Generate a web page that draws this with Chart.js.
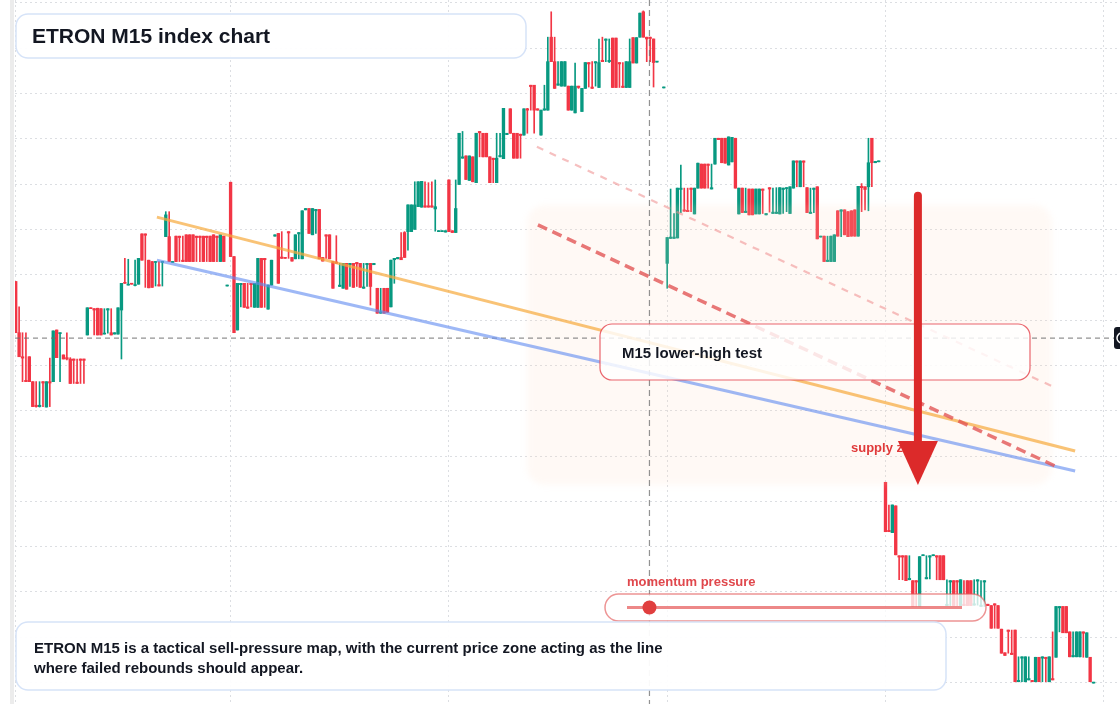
<!DOCTYPE html>
<html>
<head>
<meta charset="utf-8">
<title>ETRON M15 index chart</title>
<script src="https://cdn.jsdelivr.net/npm/chart.js@4.4.1/dist/chart.umd.min.js"></script>
<style>
  html, body { margin: 0; padding: 0; background: #fff; }
  canvas { display: block; }
</style>
</head>
<body>
<canvas id="chart" width="1120" height="704"></canvas>
<script>
// M15 candles, one per bar index (null = no print)
const opens = [
  138.5, 127.2, 121.9, 116.7, 121.9, 116.4, 111.2, 110.9, 116.4, 110.8,
  116.4, 116.4, 127.8, 127.0, 122.3, 121.7, 121.4, 121.4, 116.3, 121.4,
  121.4, 126.7, 132.7, 132.5, 132.6, 132.5, 126.9, 132.2, 127.2, 126.9,
  126.9, 132.2, 138.3, 137.7, 138.1, 137.6, 137.9, 149.0, 149.0, 143.2,
  142.9, 142.7, 137.8, 142.7, 148.4, 148.4, 142.7, 148.5, 148.5, 143.2,
  148.8, 148.8, 148.8, 148.5, 148.5, 148.5, 148.5, 148.5, 148.8, 148.5,
  142.9, 148.5, 137.5, 160.4, 144.0, 127.8, 137.8, 138.1, 132.9, 138.1,
  132.8, 132.8, 143.6, 143.6, 132.4, 137.7, 148.5, 149.1, 143.9, 143.8,
  149.5, 143.8, 143.5, 149.0, 143.5, 154.3, 154.6, 148.8, 154.1, 154.4,
  143.8, 148.8, 148.8, 142.9, 142.8, 137.4, 137.0, 142.5, 142.2, 142.5,
  142.7, 142.5, 137.0, 142.2, 142.5, 142.2, 137.0, 131.5, 137.0, 137.0,
  132.9, 143.3, 143.5, 143.8, 149.3, 149.5, 149.5, 150.0, 155.0, 154.9,
  155.2, 155.2, 155.2, 154.5, 149.5, 149.5, 149.4, 160.9, 149.7, 149.3,
  159.9, 165.7, 166.2, 160.8, 166.0, 160.3, 171.6, 171.2, 171.2, 166.0,
  165.7, 160.3, 166.0, 165.6, 170.9, 176.6, 171.2, 171.2, 171.0, 170.8,
  176.6, 181.8, 181.8, 176.6, 170.8, 176.3, 176.3, 192.4, 187.0, 181.8,
  181.6, 181.6, 181.6, 176.3, 175.7, 181.6, 176.0, 181.1, 186.8, 181.4,
  186.7, 181.3, 187.3, 191.7, 187.0, 192.2, 192.2, 186.8, 181.6, 181.3,
  181.3, 192.3, 186.7, 192.4, 198.0, 192.4, 192.4, 192.0, 186.9, null,
  181.2, 142.5, 148.0, 148.0, 148.1, 158.8, 154.3, 154.2, 159.1, 153.4,
  159.1, 164.4, 164.4, 164.4, 158.9, 164.4, 170.1, 170.1, 170.1, 164.2,
  164.9, 170.1, 153.4, 159.1, 153.7, 158.9, 158.9, 153.4, 153.4, 158.9,
  153.2, 159.2, 153.5, 153.5, 153.4, 158.8, 159.0, 153.5, 159.1, 165.1,
  159.4, 165.1, 159.2, 153.5, 158.8, 159.4, 148.3, 148.5, 142.9, 142.9,
  142.9, 154.1, 154.0, 154.3, 153.9, 154.1, 154.3, 148.5, 159.5, 159.4,
  159.4, 170.1, 164.7, 164.9, null, 94.2, 83.6, 83.1, 89.0, 78.0,
  78.0, 78.0, 72.7, 72.5, 72.5, 66.8, 78.0, 72.9, 77.7, 78.0,
  78.0, 78.0, 78.0, 67.0, 72.2, 72.5, 72.5, 67.0, 67.3, 72.5,
  72.5, 67.1, 72.4, 66.8, 72.2, 67.3, 67.0, 67.4, 67.0, 61.8,
  56.6, 61.6, 56.5, 61.6, 50.2, 55.4, 50.2, 50.6, 50.5, 50.2,
  55.6, 55.4, 55.6, 50.2, 50.9, 55.6, 66.5, 66.8, 66.8, 61.2,
  55.7, 55.7, 55.7, 61.2, 55.6, 55.6, 49.9
];
const highs = [
  138.5, 132.9, 127.2, 127.2, 121.9, 116.4, 116.4, 116.4, 116.4, 116.4,
  121.6, 127.6, 127.8, 127.2, 122.3, 127.2, 121.7, 121.4, 121.4, 121.4,
  121.4, 132.7, 132.7, 132.5, 132.6, 132.5, 132.5, 132.5, 132.5, 127.2,
  132.7, 138.1, 143.6, 143.4, 138.1, 143.2, 143.6, 149.0, 149.0, 143.2,
  142.9, 142.9, 142.9, 142.9, 153.9, 153.9, 142.9, 148.5, 148.5, 148.5,
  148.8, 148.8, 148.8, 148.5, 148.5, 148.5, 148.5, 148.5, 148.8, 148.5,
  148.8, 148.5, 137.7, 160.4, 144.0, 138.1, 138.1, 138.1, 138.1, 138.1,
  138.1, 143.6, 143.6, 143.6, 137.7, 143.2, 148.8, 149.1, 149.5, 143.8,
  149.5, 143.8, 148.8, 149.3, 154.1, 154.6, 154.6, 154.6, 154.4, 154.4,
  143.8, 148.8, 148.8, 142.9, 148.6, 142.5, 142.5, 142.5, 142.5, 142.5,
  142.7, 142.5, 142.5, 142.5, 142.5, 142.5, 137.0, 137.0, 137.0, 137.0,
  143.2, 143.6, 143.8, 149.3, 149.5, 155.4, 155.4, 160.5, 160.5, 160.6,
  160.5, 160.3, 160.5, 160.9, 149.7, 149.7, 149.7, 160.9, 149.7, 160.9,
  171.2, 171.6, 166.2, 166.2, 166.0, 171.2, 171.6, 171.2, 171.2, 166.0,
  165.7, 171.2, 171.2, 176.7, 171.2, 176.6, 171.2, 171.2, 171.0, 176.6,
  176.7, 181.8, 181.8, 176.6, 176.3, 181.8, 192.4, 198.0, 192.4, 187.0,
  187.0, 187.0, 181.6, 181.6, 186.7, 181.6, 181.1, 186.8, 186.8, 187.0,
  187.0, 192.0, 192.4, 192.0, 192.0, 192.2, 192.2, 186.8, 186.8, 187.0,
  192.0, 192.3, 192.3, 197.7, 198.2, 192.4, 192.4, 192.0, 187.0, null,
  181.4, 148.2, 158.9, 153.5, 159.1, 164.2, 159.1, 159.1, 159.1, 159.1,
  164.6, 164.4, 164.4, 164.4, 164.4, 170.1, 170.1, 170.1, 170.1, 170.4,
  170.3, 170.1, 159.1, 159.1, 159.1, 158.9, 158.9, 158.9, 158.9, 158.9,
  153.5, 159.2, 159.1, 159.2, 159.2, 159.1, 159.2, 159.4, 165.1, 165.1,
  165.1, 165.1, 159.2, 159.1, 159.1, 159.4, 148.5, 148.5, 148.5, 148.5,
  148.8, 154.1, 154.3, 154.3, 153.9, 154.1, 154.3, 159.5, 160.1, 159.4,
  170.1, 170.1, 165.0, 165.1, null, 94.2, 89.2, 89.2, 89.0, 78.0,
  78.0, 78.0, 78.0, 72.5, 72.5, 77.8, 78.2, 78.0, 78.0, 78.2,
  78.0, 78.0, 78.0, 72.7, 72.5, 72.5, 72.5, 72.7, 72.5, 72.5,
  72.5, 72.7, 72.7, 72.5, 72.5, 67.3, 67.0, 67.4, 67.0, 61.8,
  56.6, 61.6, 61.6, 61.6, 55.7, 55.7, 55.7, 55.7, 50.5, 55.6,
  55.6, 55.7, 55.6, 55.7, 61.2, 66.8, 66.8, 66.8, 66.8, 61.2,
  61.2, 61.2, 61.2, 61.2, 61.0, 55.6, 50.1
];
const lows = [
  127.2, 121.9, 116.4, 116.4, 116.4, 110.9, 110.8, 110.8, 110.9, 110.8,
  110.9, 116.4, 121.7, 116.4, 121.4, 121.2, 116.0, 116.0, 116.0, 116.0,
  116.0, 126.7, 132.5, 126.7, 126.7, 126.7, 126.9, 127.1, 126.7, 126.9,
  126.9, 121.4, 138.1, 137.7, 137.9, 137.5, 137.9, 143.2, 137.2, 137.1,
  137.2, 137.5, 137.5, 137.5, 148.4, 142.9, 142.7, 142.9, 142.9, 142.9,
  142.9, 142.9, 142.9, 142.9, 142.9, 142.9, 142.9, 142.9, 142.9, 142.9,
  142.9, 142.9, 137.5, 144.0, 127.2, 127.8, 132.9, 132.8, 132.6, 132.9,
  132.8, 132.8, 132.8, 132.8, 132.4, 137.7, 148.5, 138.1, 143.6, 143.6,
  143.6, 143.0, 143.5, 143.5, 143.5, 154.3, 149.1, 148.8, 149.1, 143.5,
  143.0, 143.6, 143.5, 137.0, 142.5, 137.4, 137.0, 136.8, 137.4, 137.2,
  137.4, 137.2, 137.0, 137.4, 133.3, 142.2, 131.5, 131.5, 131.5, 131.7,
  132.9, 138.1, 143.5, 143.3, 143.8, 145.4, 149.5, 150.0, 155.0, 154.9,
  154.9, 154.9, 154.9, 149.6, 149.5, 149.5, 149.4, 149.5, 149.3, 149.3,
  159.9, 165.7, 161.0, 160.8, 160.5, 160.3, 166.0, 166.0, 166.0, 160.3,
  160.3, 160.3, 166.0, 165.6, 170.9, 171.2, 165.7, 165.7, 165.7, 170.8,
  171.2, 176.3, 171.2, 176.3, 170.8, 176.3, 176.3, 187.0, 181.1, 181.8,
  181.6, 181.6, 176.3, 176.3, 175.7, 181.1, 176.0, 181.1, 181.4, 181.1,
  181.6, 181.3, 187.0, 187.0, 186.8, 181.3, 181.3, 181.3, 181.3, 181.3,
  181.3, 186.7, 186.7, 192.4, 192.4, 187.0, 187.0, 181.4, 186.9, null,
  181.2, 137.0, 148.0, 148.0, 148.1, 153.7, 154.0, 153.9, 153.9, 153.4,
  159.1, 159.1, 159.1, 159.1, 158.9, 164.4, 169.8, 164.7, 164.6, 164.2,
  164.9, 159.1, 153.4, 153.7, 153.7, 153.2, 153.2, 153.4, 153.4, 153.5,
  153.2, 153.8, 153.5, 153.5, 153.4, 153.5, 153.9, 153.5, 159.1, 159.4,
  159.4, 159.4, 153.7, 153.5, 153.7, 147.9, 148.3, 142.9, 142.9, 142.9,
  142.9, 148.5, 148.4, 148.8, 148.4, 148.5, 148.5, 148.5, 153.9, 154.3,
  154.1, 159.4, 164.7, 164.9, null, 83.3, 83.3, 83.1, 78.2, 72.7,
  72.7, 72.5, 72.7, 66.8, 66.8, 66.8, 78.0, 72.9, 72.9, 78.0,
  72.7, 72.7, 72.7, 67.0, 67.0, 67.0, 67.0, 67.0, 67.0, 67.0,
  67.0, 67.1, 67.1, 66.8, 66.8, 67.0, 62.0, 62.0, 62.0, 56.5,
  56.0, 56.5, 56.2, 50.2, 50.2, 50.2, 50.2, 50.6, 50.2, 50.2,
  50.2, 50.2, 50.2, 50.2, 50.6, 55.6, 61.2, 61.0, 61.0, 55.7,
  55.7, 55.7, 55.7, 55.6, 55.6, 50.2, 49.9
];
const closes = [
  127.2, 121.9, 121.6, 116.4, 116.4, 110.9, 110.9, 111.2, 116.1, 116.4,
  116.1, 127.6, 121.7, 127.2, 121.4, 121.4, 116.0, 121.1, 116.0, 121.1,
  121.1, 132.7, 132.5, 132.2, 126.7, 126.7, 127.1, 132.5, 126.7, 127.2,
  132.7, 138.1, 138.1, 137.9, 137.9, 137.7, 143.6, 143.2, 148.7, 137.1,
  137.2, 142.9, 137.5, 142.9, 153.2, 142.9, 142.9, 142.9, 148.2, 142.9,
  142.9, 142.9, 142.9, 148.2, 148.2, 142.9, 148.2, 142.9, 142.9, 148.2,
  148.8, 142.9, 137.7, 144.0, 127.2, 138.1, 138.1, 132.8, 132.6, 137.8,
  138.1, 143.6, 132.8, 143.3, 137.7, 143.2, 148.8, 138.1, 143.6, 143.6,
  149.2, 143.0, 148.8, 149.3, 154.1, 154.6, 149.1, 154.6, 154.4, 143.5,
  143.0, 148.5, 143.5, 137.0, 142.5, 137.7, 142.5, 136.8, 142.5, 137.2,
  142.4, 137.2, 137.3, 142.5, 137.4, 142.5, 131.5, 131.8, 131.5, 131.7,
  143.2, 143.6, 143.8, 143.3, 143.8, 155.4, 155.4, 155.4, 160.5, 160.6,
  154.9, 154.9, 154.9, 155.0, 149.7, 149.7, 149.7, 149.5, 149.3, 154.6,
  171.2, 166.0, 161.0, 166.2, 160.5, 171.2, 171.3, 166.0, 166.0, 160.3,
  165.4, 165.7, 166.3, 176.7, 171.2, 171.2, 165.7, 165.7, 170.7, 176.6,
  176.3, 181.5, 176.3, 176.3, 176.3, 176.6, 187.0, 187.0, 181.1, 182.1,
  187.0, 187.0, 176.3, 181.6, 181.6, 181.3, 181.1, 186.8, 186.5, 181.1,
  187.0, 186.8, 187.0, 192.0, 187.3, 181.3, 181.3, 186.5, 181.3, 187.0,
  187.0, 186.7, 192.3, 197.7, 192.4, 192.0, 192.1, 186.8, 187.0, null,
  181.4, 148.2, 148.3, 148.3, 159.1, 159.1, 154.0, 153.9, 158.8, 159.1,
  164.6, 159.1, 159.1, 164.1, 159.2, 170.1, 169.8, 164.7, 164.6, 170.4,
  170.3, 159.1, 159.1, 153.7, 154.0, 153.2, 153.2, 158.9, 158.9, 158.6,
  153.5, 158.9, 153.8, 153.8, 159.2, 159.1, 159.2, 159.4, 165.1, 164.8,
  165.1, 164.8, 153.7, 153.8, 159.1, 147.9, 148.5, 142.9, 143.2, 148.5,
  148.8, 148.5, 154.3, 148.8, 148.4, 148.5, 148.5, 159.5, 159.2, 158.8,
  164.7, 164.7, 165.0, 165.1, null, 83.3, 83.3, 89.2, 78.2, 77.7,
  77.7, 72.5, 73.0, 66.8, 72.2, 77.8, 78.2, 73.2, 78.0, 78.2,
  77.7, 72.7, 72.7, 67.3, 72.5, 67.0, 72.2, 72.7, 67.0, 67.0,
  67.0, 67.4, 72.7, 67.1, 72.5, 67.0, 62.0, 67.1, 62.0, 56.5,
  56.0, 61.3, 56.2, 50.2, 50.5, 55.7, 55.7, 50.9, 50.2, 55.6,
  50.2, 55.7, 55.3, 55.7, 50.6, 66.8, 66.8, 61.0, 61.0, 55.7,
  56.0, 61.2, 61.2, 60.9, 61.0, 50.2, 50.1
];

// axis grid
const priceTicks = [50, 60, 70, 80, 90, 100, 110, 120, 130, 140, 150, 160, 170, 180, 190, 200];
const timeTicks = [0, 63, 127, 191, 255, 319];

// annotations, in bar index / price
const crossBar = 185.8, crossPrice = 126.0;
const orangeLine = [[41.4, 152.7], [310.6, 101.1]];
const blueLine = [[41.4, 143.2], [310.6, 96.7]];
const softDash = [[152.8, 168.2], [303.8, 115.4]];
const hardDash = [[153.1, 151.0], [304.7, 97.8]];
const supplyZone = { from: 149.9, to: 303.8, top: 155.4, bottom: 93.6 };
const arrow = { bar: 264.5, from: 157.4, head: 103.3, to: 93.6 };

const UP = '#089981', DOWN = '#f23645';
const FONT = '"Liberation Sans", Arial, sans-serif';

const bars = opens.map((o, i) => i).filter(i => opens[i] !== null);
const colors = bars.map(i => closes[i] >= opens[i] ? UP : DOWN);

function rrect(ctx, x, y, w, h, r) {
  ctx.beginPath();
  ctx.moveTo(x + r, y);
  ctx.arcTo(x + w, y, x + w, y + h, r);
  ctx.arcTo(x + w, y + h, x, y + h, r);
  ctx.arcTo(x, y + h, x, y, r);
  ctx.arcTo(x, y, x + w, y, r);
  ctx.closePath();
}

const overlay = {
  id: 'overlay',
  beforeDraw(chart) {
    const ctx = chart.ctx;
    ctx.save();
    ctx.fillStyle = '#fff';
    ctx.fillRect(0, 0, chart.width, chart.height);
    ctx.fillStyle = '#ececec';
    ctx.fillRect(10, 0, 4, chart.height);
    ctx.restore();
  },
  afterDatasetsDraw(chart) {
    const ctx = chart.ctx;
    const xs = chart.scales.x, ys = chart.scales.y;
    const px = v => xs.getPixelForValue(v);
    const py = v => ys.getPixelForValue(v);
    const seg = (pts) => { ctx.beginPath(); ctx.moveTo(px(pts[0][0]), py(pts[0][1])); ctx.lineTo(px(pts[1][0]), py(pts[1][1])); ctx.stroke(); };
    ctx.save();

    // supply zone shade, soft edges
    const zx = px(supplyZone.from), zy = py(supplyZone.top);
    ctx.save();
    ctx.filter = 'blur(3px)';
    rrect(ctx, zx, zy, px(supplyZone.to) - zx, py(supplyZone.bottom) - zy, 18);
    ctx.fillStyle = 'rgba(255, 214, 190, 0.15)';
    ctx.fill();
    ctx.restore();

    // crosshair
    ctx.strokeStyle = 'rgba(110, 110, 110, 0.75)';
    ctx.lineWidth = 1.2;
    ctx.setLineDash([5, 4]);
    ctx.beginPath();
    ctx.moveTo(15, py(crossPrice)); ctx.lineTo(1114, py(crossPrice));
    ctx.stroke();
    ctx.setLineDash([6, 4]);
    ctx.beginPath();
    ctx.moveTo(px(crossBar), 0); ctx.lineTo(px(crossBar), chart.height);
    ctx.stroke();

    // trend lines
    ctx.setLineDash([]);
    ctx.lineWidth = 3;
    ctx.strokeStyle = 'rgba(98, 140, 240, 0.62)';
    seg(blueLine);
    ctx.strokeStyle = 'rgba(246, 170, 60, 0.7)';
    seg(orangeLine);
    ctx.setLineDash([7, 7]);
    ctx.lineWidth = 2.2;
    ctx.strokeStyle = 'rgba(238, 140, 140, 0.55)';
    seg(softDash);
    ctx.setLineDash([10, 6]);
    ctx.lineWidth = 3.5;
    ctx.strokeStyle = 'rgba(226, 82, 82, 0.78)';
    seg(hardDash);
    ctx.setLineDash([]);

    // callout
    rrect(ctx, 600, 324, 430, 56, 12);
    ctx.fillStyle = 'rgba(255, 255, 255, 0.82)';
    ctx.fill();
    ctx.lineWidth = 1.2;
    ctx.strokeStyle = 'rgba(230, 75, 85, 0.85)';
    ctx.stroke();
    ctx.fillStyle = '#131722';
    ctx.font = 'bold 15px ' + FONT;
    ctx.textBaseline = 'middle';
    ctx.fillText('M15 lower-high test', 622, 354);

    ctx.fillStyle = '#e03a3a';
    ctx.font = 'bold 13px ' + FONT;
    ctx.fillText('supply zone', 851, 448);

    // arrow
    const ax = px(arrow.bar);
    ctx.strokeStyle = '#dc2a2a';
    ctx.fillStyle = '#dc2a2a';
    ctx.lineWidth = 8;
    ctx.lineCap = 'round';
    ctx.beginPath();
    ctx.moveTo(ax, py(arrow.from)); ctx.lineTo(ax, py(arrow.head) + 4);
    ctx.stroke();
    ctx.lineCap = 'butt';
    ctx.beginPath();
    ctx.moveTo(ax - 20, py(arrow.head));
    ctx.lineTo(ax + 20, py(arrow.head));
    ctx.lineTo(ax, py(arrow.to));
    ctx.closePath();
    ctx.fill();

    // momentum gauge
    ctx.fillStyle = '#e0474c';
    ctx.font = 'bold 13px ' + FONT;
    ctx.fillText('momentum pressure', 627, 582);
    rrect(ctx, 605, 594, 381, 27, 13.5);
    ctx.fillStyle = 'rgba(255, 255, 255, 0.78)';
    ctx.fill();
    ctx.lineWidth = 1.5;
    ctx.strokeStyle = 'rgba(228, 90, 90, 0.65)';
    ctx.stroke();
    ctx.lineWidth = 3;
    ctx.strokeStyle = 'rgba(230, 90, 90, 0.72)';
    ctx.beginPath();
    ctx.moveTo(627, 607.5); ctx.lineTo(962, 607.5);
    ctx.stroke();
    ctx.fillStyle = '#e03e3e';
    ctx.beginPath();
    ctx.arc(px(crossBar), 607.5, 7, 0, Math.PI * 2);
    ctx.fill();

    // title
    rrect(ctx, 16, 14, 510, 44, 12);
    ctx.fillStyle = 'rgba(255, 255, 255, 0.94)';
    ctx.fill();
    ctx.lineWidth = 1.5;
    ctx.strokeStyle = '#d6e3f8';
    ctx.stroke();
    ctx.fillStyle = '#131722';
    ctx.font = 'bold 21px ' + FONT;
    ctx.fillText('ETRON M15 index chart', 32, 37);

    // note
    rrect(ctx, 16, 622, 930, 68, 12);
    ctx.fillStyle = 'rgba(255, 255, 255, 0.94)';
    ctx.fill();
    ctx.strokeStyle = '#d6e3f8';
    ctx.stroke();
    ctx.fillStyle = '#131722';
    ctx.font = 'bold 15px ' + FONT;
    ctx.fillText('ETRON M15 is a tactical sell-pressure map, with the current price zone acting as the line', 34, 649);
    ctx.fillText('where failed rebounds should appear.', 34, 669);

    // price tag at the right edge
    rrect(ctx, 1114, 327, 24, 22, 3);
    ctx.fillStyle = '#131722';
    ctx.fill();
    ctx.strokeStyle = '#fff';
    ctx.lineWidth = 1.5;
    ctx.beginPath();
    ctx.arc(1122, 338, 5, 0, Math.PI * 2);
    ctx.stroke();

    ctx.restore();
  }
};

const ctx = document.getElementById('chart').getContext('2d');
const chart = new Chart(ctx, {
  type: 'bar',
  data: {
    datasets: [{
      label: 'wicks',
      data: bars.map(i => ({ x: i, y: [lows[i], highs[i]] })),
      backgroundColor: colors,
      barThickness: 1,
      grouped: false,
      borderWidth: 0
    }, {
      label: 'bodies',
      data: bars.map(i => ({ x: i, y: [opens[i], closes[i]] })),
      backgroundColor: colors,
      barThickness: 2.7,
      minBarLength: 1,
      grouped: false,
      borderWidth: 0
    }]
  },
  options: {
    responsive: false,
    animation: false,
    devicePixelRatio: 1,
    layout: { padding: { left: 15, right: 0, top: 0, bottom: 0 } },
    plugins: {
      legend: { display: false },
      tooltip: { enabled: false }
    },
    scales: {
      x: {
        type: 'linear',
        min: -0.205,
        max: 323.75,
        offset: false,
        grid: { color: '#dcdee2', offset: false, drawTicks: false, tickLength: 0 },
        border: { display: false, dash: [2, 3] },
        ticks: { display: false },
        afterBuildTicks: s => { s.ticks = timeTicks.map(v => ({ value: v })); }
      },
      y: {
        type: 'linear',
        min: 45.29,
        max: 200.6,
        grid: { color: '#dcdee2', drawTicks: false, tickLength: 0 },
        border: { display: false, dash: [2, 3] },
        ticks: { display: false },
        afterBuildTicks: s => { s.ticks = priceTicks.map(v => ({ value: v })); }
      }
    }
  },
  plugins: [overlay]
});
</script>
</body>
</html>
